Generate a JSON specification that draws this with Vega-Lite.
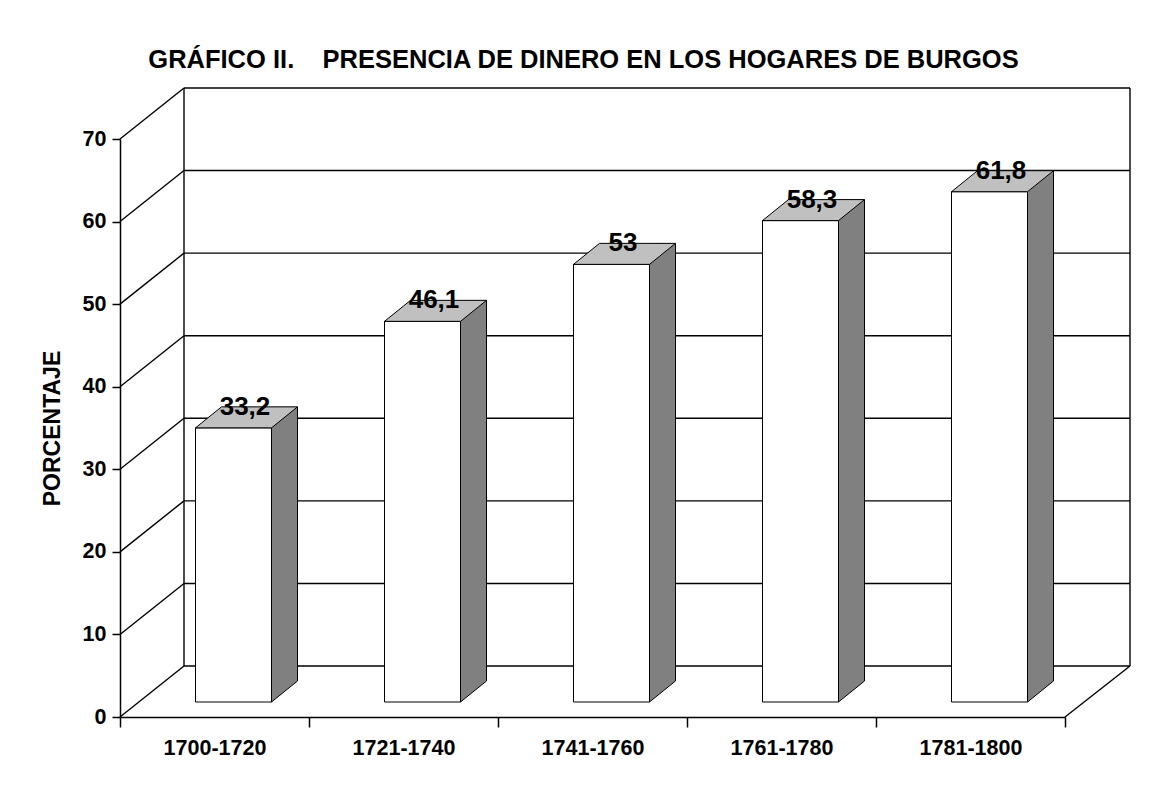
{
  "$schema": "https://vega.github.io/schema/vega-lite/v6.json",
  "width": 945,
  "height": 578,
  "autosize": "none",
  "padding": {"left": 120, "top": 139, "right": 95, "bottom": 70},
  "background": "white",
  "title": {
    "text": "GRÁFICO II.\u00a0\u00a0\u00a0\u00a0PRESENCIA DE DINERO EN LOS HOGARES DE BURGOS",
    "font": "Liberation Sans",
    "fontSize": 25.5,
    "fontWeight": "bold",
    "color": "black",
    "anchor": "middle",
    "dx": -9,
    "offset": 14
  },
  "datasets": {
    "barras": [
      {"periodo": "1700-1720", "porcentaje": 33.2},
      {"periodo": "1721-1740", "porcentaje": 46.1},
      {"periodo": "1741-1760", "porcentaje": 53},
      {"periodo": "1761-1780", "porcentaje": 58.3},
      {"periodo": "1781-1800", "porcentaje": 61.8}
    ],
    "marcas": [
      {"v": 0}, {"v": 10}, {"v": 20}, {"v": 30},
      {"v": 40}, {"v": 50}, {"v": 60}, {"v": 70}
    ]
  },
  "layer": [
    {
      "data": {"name": "marcas"},
      "mark": {"type": "rule", "xOffset": -94.5, "x2Offset": -30.5, "y2Offset": -51, "strokeWidth": 1.4, "color": "black"},
      "encoding": {
        "x": {"datum": "1700-1720", "type": "nominal", "scale": {"domain": ["1700-1720", "1721-1740", "1741-1760", "1761-1780", "1781-1800"], "paddingInner": 0, "paddingOuter": 0}, "axis": {"title": null, "labelFontSize": 21.5}},
        "x2": {"datum": "1700-1720"},
        "y": {"field": "v", "type": "quantitative", "scale": {"domain": [0, 70]}, "axis": {"title": "PORCENTAJE", "values": [0, 10, 20, 30, 40, 50, 60, 70], "labelFontSize": 21.5, "titleFontSize": 23}},
        "y2": {"field": "v"}
      }
    },
    {
      "data": {"name": "marcas"},
      "mark": {"type": "rule", "xOffset": -30.5, "x2Offset": 159.5, "yOffset": -51, "strokeWidth": 1.4, "color": "black"},
      "encoding": {
        "x": {"datum": "1700-1720", "type": "nominal", "scale": {"domain": ["1700-1720", "1721-1740", "1741-1760", "1761-1780", "1781-1800"], "paddingInner": 0, "paddingOuter": 0}, "axis": {"title": null}},
        "x2": {"datum": "1781-1800"},
        "y": {"field": "v", "type": "quantitative", "scale": {"domain": [0, 70]}, "axis": {"title": "PORCENTAJE", "values": [0, 10, 20, 30, 40, 50, 60, 70]}}
      }
    },
    {
      "data": {"name": "marcas"},
      "transform": [{"filter": "datum.v == 0"}],
      "mark": {"type": "rule", "xOffset": -30.5, "yOffset": -51, "y2Offset": -51, "strokeWidth": 1.4, "color": "black"},
      "encoding": {
        "x": {"datum": "1700-1720", "type": "nominal", "scale": {"domain": ["1700-1720", "1721-1740", "1741-1760", "1761-1780", "1781-1800"], "paddingInner": 0, "paddingOuter": 0}, "axis": {"title": null}},
        "y": {"field": "v", "type": "quantitative", "scale": {"domain": [0, 70]}, "axis": {"title": "PORCENTAJE", "values": [0, 10, 20, 30, 40, 50, 60, 70]}},
        "y2": {"datum": 70}
      }
    },
    {
      "data": {"name": "marcas"},
      "transform": [{"filter": "datum.v == 0"}],
      "mark": {"type": "rule", "xOffset": 159.5, "yOffset": -51, "y2Offset": -51, "strokeWidth": 1.4, "color": "black"},
      "encoding": {
        "x": {"datum": "1781-1800", "type": "nominal", "scale": {"domain": ["1700-1720", "1721-1740", "1741-1760", "1761-1780", "1781-1800"], "paddingInner": 0, "paddingOuter": 0}, "axis": {"title": null}},
        "y": {"field": "v", "type": "quantitative", "scale": {"domain": [0, 70]}, "axis": {"title": "PORCENTAJE", "values": [0, 10, 20, 30, 40, 50, 60, 70]}},
        "y2": {"datum": 70}
      }
    },
    {
      "data": {"name": "marcas"},
      "transform": [{"filter": "datum.v == 0"}],
      "mark": {"type": "rule", "xOffset": 94.5, "x2Offset": 159.5, "y2Offset": -51, "strokeWidth": 1.4, "color": "black"},
      "encoding": {
        "x": {"datum": "1781-1800", "type": "nominal", "scale": {"domain": ["1700-1720", "1721-1740", "1741-1760", "1761-1780", "1781-1800"], "paddingInner": 0, "paddingOuter": 0}, "axis": {"title": null}},
        "x2": {"datum": "1781-1800"},
        "y": {"field": "v", "type": "quantitative", "scale": {"domain": [0, 70]}, "axis": {"title": "PORCENTAJE", "values": [0, 10, 20, 30, 40, 50, 60, 70]}},
        "y2": {"field": "v"}
      }
    },
    {
      "data": {"name": "barras"},
      "mark": {"type": "bar", "width": 26, "xOffset": 70, "yOffset": -36, "y2Offset": -35.5, "fill": "#808080", "stroke": null},
      "encoding": {
        "x": {"field": "periodo", "type": "nominal", "sort": null, "scale": {"domain": ["1700-1720", "1721-1740", "1741-1760", "1761-1780", "1781-1800"], "paddingInner": 0, "paddingOuter": 0}, "axis": {"title": null}},
        "y": {"field": "porcentaje", "type": "quantitative", "scale": {"domain": [0, 70]}, "axis": {"title": "PORCENTAJE", "values": [0, 10, 20, 30, 40, 50, 60, 70]}}
      }
    },
    {
      "data": {"name": "barras"},
      "mark": {
        "type": "point",
        "shape": "M83,-36 L57,-15 L57,-36",
        "size": 4,
        "filled": true,
        "fill": "#808080",
        "stroke": "black",
        "strokeWidth": 1,
        "opacity": 1
      },
      "encoding": {
        "x": {"field": "periodo", "type": "nominal", "sort": null, "scale": {"domain": ["1700-1720", "1721-1740", "1741-1760", "1761-1780", "1781-1800"], "paddingInner": 0, "paddingOuter": 0}, "axis": {"title": null}},
        "y": {"datum": 0, "type": "quantitative", "scale": {"domain": [0, 70]}, "axis": {"title": "PORCENTAJE", "values": [0, 10, 20, 30, 40, 50, 60, 70]}}
      }
    },
    {
      "data": {"name": "barras"},
      "mark": {"type": "rule", "xOffset": 83, "yOffset": -36, "y2Offset": -36, "color": "black", "strokeWidth": 1},
      "encoding": {
        "x": {"field": "periodo", "type": "nominal", "sort": null, "scale": {"domain": ["1700-1720", "1721-1740", "1741-1760", "1761-1780", "1781-1800"], "paddingInner": 0, "paddingOuter": 0}, "axis": {"title": null}},
        "y": {"field": "porcentaje", "type": "quantitative", "scale": {"domain": [0, 70]}, "axis": {"title": "PORCENTAJE", "values": [0, 10, 20, 30, 40, 50, 60, 70]}},
        "y2": {"datum": 0}
      }
    },
    {
      "data": {"name": "barras"},
      "mark": {"type": "bar", "width": 76, "xOffset": 19, "yOffset": -15, "y2Offset": -15, "fill": "white", "stroke": "black", "strokeWidth": 1},
      "encoding": {
        "x": {"field": "periodo", "type": "nominal", "sort": null, "scale": {"domain": ["1700-1720", "1721-1740", "1741-1760", "1761-1780", "1781-1800"], "paddingInner": 0, "paddingOuter": 0}, "axis": {"title": null}},
        "y": {"field": "porcentaje", "type": "quantitative", "scale": {"domain": [0, 70]}, "axis": {"title": "PORCENTAJE", "values": [0, 10, 20, 30, 40, 50, 60, 70]}}
      }
    },
    {
      "data": {"name": "barras"},
      "mark": {
        "type": "point",
        "shape": "M-19,-15 L57,-15 L83,-36 L7,-36 Z",
        "size": 4,
        "filled": true,
        "fill": "#c0c0c0",
        "stroke": "black",
        "strokeWidth": 1,
        "strokeJoin": "miter",
        "opacity": 1
      },
      "encoding": {
        "x": {"field": "periodo", "type": "nominal", "sort": null, "scale": {"domain": ["1700-1720", "1721-1740", "1741-1760", "1761-1780", "1781-1800"], "paddingInner": 0, "paddingOuter": 0}, "axis": {"title": null}},
        "y": {"field": "porcentaje", "type": "quantitative", "scale": {"domain": [0, 70]}, "axis": {"title": "PORCENTAJE", "values": [0, 10, 20, 30, 40, 50, 60, 70]}}
      }
    },
    {
      "data": {"name": "barras"},
      "mark": {
        "type": "text",
        "dx": 30.5,
        "dy": -28,
        "align": "center",
        "baseline": "alphabetic",
        "font": "Liberation Sans",
        "fontSize": 26,
        "fontWeight": "bold",
        "color": "black"
      },
      "encoding": {
        "x": {"field": "periodo", "type": "nominal", "sort": null, "scale": {"domain": ["1700-1720", "1721-1740", "1741-1760", "1761-1780", "1781-1800"], "paddingInner": 0, "paddingOuter": 0}, "axis": {"title": null}},
        "y": {"field": "porcentaje", "type": "quantitative", "scale": {"domain": [0, 70]}, "axis": {"title": "PORCENTAJE", "values": [0, 10, 20, 30, 40, 50, 60, 70]}},
        "text": {"field": "porcentaje", "type": "quantitative", "format": ".1~f"}
      }
    }
  ],
  "config": {
    "view": {"stroke": null},
    "locale": {
      "number": {"decimal": ",", "thousands": ".", "grouping": [3], "currency": ["", " €"]}
    },
    "axis": {
      "grid": false,
      "domainColor": "black",
      "domainWidth": 1.5,
      "tickColor": "black",
      "tickWidth": 1.5,
      "labelColor": "black",
      "labelFont": "Liberation Sans",
      "labelFontWeight": "bold",
      "labelFontSize": 21.5,
      "titleFont": "Liberation Sans",
      "titleFontWeight": "bold",
      "titleColor": "black"
    },
    "axisX": {
      "labelAngle": 0,
      "tickBand": "extent",
      "tickSize": 10,
      "labelPadding": 10,
      "labelFontSize": 21.5
    },
    "axisY": {
      "tickSize": 8,
      "labelPadding": 6,
      "labelFontSize": 21.5,
      "titleFontSize": 23,
      "titlePadding": 18
    }
  }
}
